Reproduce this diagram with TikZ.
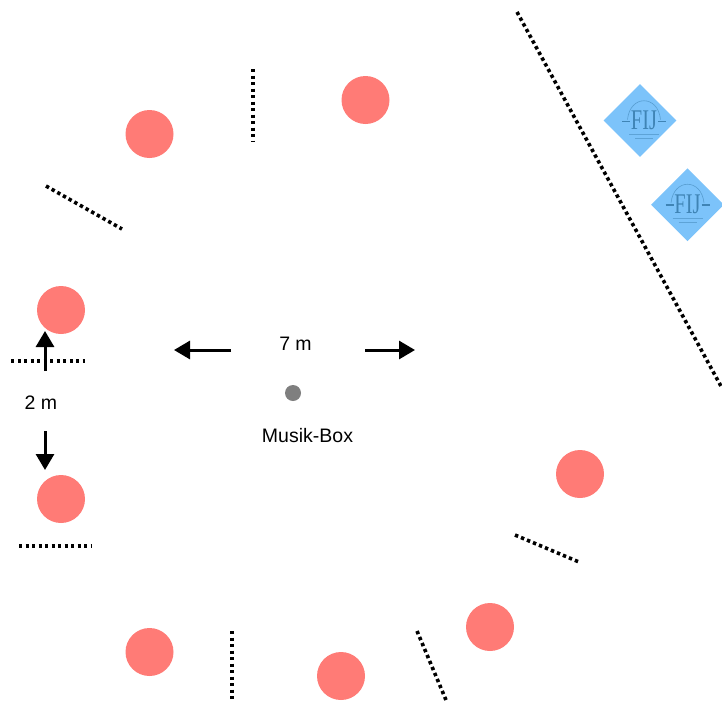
\documentclass[tikz,border=0pt]{standalone}
\usepackage{fontspec}
\setmainfont{Liberation Sans}
\newfontfamily\logofont{Liberation Serif}
\usetikzlibrary{arrows.meta,shapes.geometric}
\definecolor{guestC}{HTML}{FF7B76}
\definecolor{badgeC}{HTML}{7CC3FA}
\definecolor{logoC}{HTML}{3F84B5}
\definecolor{boxC}{HTML}{7F7F7F}
\begin{document}
\begin{tikzpicture}[x=1pt,y=-1pt,
guestS/.style={shape=circle,fill=guestC,inner sep=0pt,minimum size=48pt},
boxS/.style={shape=circle,fill=boxC,inner sep=0pt,minimum size=16pt},
badgeS/.style={shape=diamond,fill=badgeC,inner sep=0pt,aspect=1,minimum size=73pt},
logoS/.style={logoC,inner sep=0pt,font=\logofont\fontsize{30}{30}\selectfont},
wallS/.style={line width=3.6pt,dash pattern=on 3.4pt off 3.1pt},
arrowS/.style={line width=3pt,-{Triangle[length=16pt,width=18pt]}},
labelS/.style={inner sep=0pt,font=\fontsize{19.5}{23}\selectfont}]
\useasboundingbox (0,0) rectangle (722,702);

% guests
\node[guestS] (g1) at (149.5,134) {};
\node[guestS] (g2) at (365.5,100) {};
\node[guestS] (g3) at (61,310) {};
\node[guestS] (g4) at (61,499) {};
\node[guestS] (g5) at (149.5,652) {};
\node[guestS] (g6) at (341,676) {};
\node[guestS] (g7) at (490,627) {};
\node[guestS] (g8) at (580,474) {};

% music box
\node[boxS] (box) at (293,393) {};
\node[labelS] (boxL) at (307.5,436) {Musik-Box};

% walls
\coordinate (w1a) at (253,69);
\coordinate (w1b) at (253,142);
\draw[wallS] (w1a) -- (w1b);
\coordinate (w2a) at (46,186);
\coordinate (w2b) at (122,229);
\draw[wallS] (w2a) -- (w2b);
\coordinate (w3a) at (11,361);
\coordinate (w3b) at (85,361);
\draw[wallS] (w3a) -- (w3b);
\coordinate (w4a) at (19,546);
\coordinate (w4b) at (92,546);
\draw[wallS] (w4a) -- (w4b);
\coordinate (w5a) at (232,631);
\coordinate (w5b) at (232,702);
\draw[wallS] (w5a) -- (w5b);
\coordinate (w6a) at (417,631);
\coordinate (w6b) at (446,700);
\draw[wallS] (w6a) -- (w6b);
\coordinate (w7a) at (515,535);
\coordinate (w7b) at (579,562);
\draw[wallS] (w7a) -- (w7b);
\coordinate (w8a) at (517,12);
\coordinate (w8b) at (722,388);
\draw[wallS] (w8a) -- (w8b);

% distances
\node[labelS] (dist7) at (295.5,344) {7 m};
\coordinate (a1a) at (231,350);
\coordinate (a1b) at (174,350);
\draw[arrowS] (a1a) -- (a1b);
\coordinate (a2a) at (365,350);
\coordinate (a2b) at (415,350);
\draw[arrowS] (a2a) -- (a2b);
\node[labelS] (dist2) at (41,402.5) {2 m};
\coordinate (a3a) at (45,371);
\coordinate (a3b) at (45,331);
\draw[arrowS] (a3a) -- (a3b);
\coordinate (a4a) at (45,431);
\coordinate (a4b) at (45,470);
\draw[arrowS] (a4a) -- (a4b);

% badges
\foreach \n/\x/\y/\lx/\ly in {a/640/120.5/644/120.5,b/687.5/204.7/687.5/204}{
\node[badgeS] (badge\n) at (\x,\y) {};
\begin{scope}[shift={(\lx,\ly)}]
\node[logoS] (fij\n) at (0,0) {\scalebox{0.68}[0.95]{FIJ}};
\draw[logoC,opacity=0.6,line width=0.6pt] (-16.5,-1) .. controls (-14,-26) and (14,-26) .. (16.5,-1);
\draw[logoC,line width=1.8pt] (-22,1) -- (-14,1);
\draw[logoC,line width=1.8pt] (14,1) -- (22,1);
\draw[logoC,opacity=0.5,line width=0.9pt] (-15,14) -- (15,14);
\draw[logoC,opacity=0.5,line width=0.9pt] (-9,18) -- (9,18);
\end{scope}
}
\end{tikzpicture}
\end{document}
